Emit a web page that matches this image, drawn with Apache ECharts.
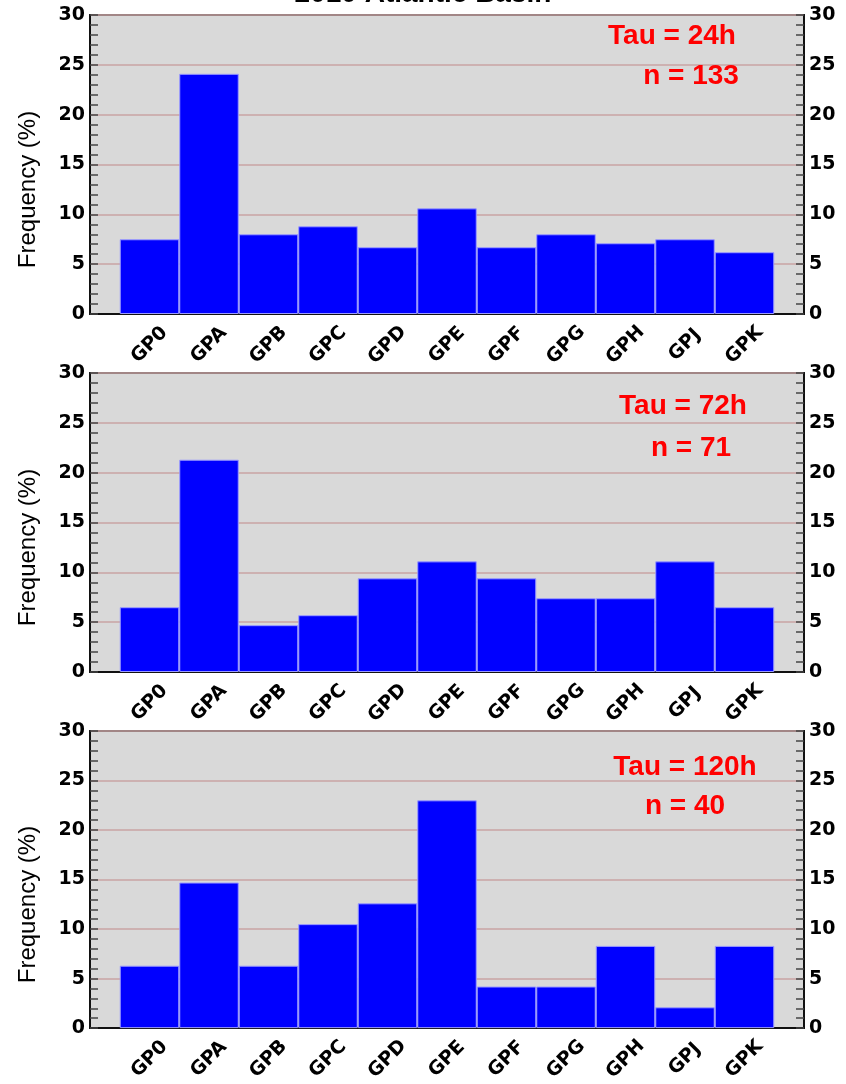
<!DOCTYPE html>
<html style="height: 100%">
<head>
  <meta charset="utf-8">
  <script src="https://cdn.jsdelivr.net/npm/echarts@6/dist/echarts.min.js"></script>
</head>
<body style="height: 100%; margin: 0; background: #fff">
  <div id="container" style="width: 846px; height: 1084px"></div>
  <script type="text/javascript">
    // data
    var titleText = '2010 Atlantic Basin';
    var categories = ['GP0', 'GPA', 'GPB', 'GPC', 'GPD', 'GPE', 'GPF', 'GPG', 'GPH', 'GPJ', 'GPK'];
    var freq24 = [7.5, 24.1, 8.0, 8.8, 6.7, 10.6, 6.7, 8.0, 7.1, 7.5, 6.2];
    var freq72 = [6.5, 21.3, 4.7, 5.7, 9.4, 11.1, 9.4, 7.4, 7.4, 11.1, 6.5];
    var freq120 = [6.3, 14.7, 6.3, 10.5, 12.6, 23.0, 4.2, 4.2, 8.3, 2.1, 8.3];
    var tauLabels = ['Tau = 24h', 'Tau = 72h', 'Tau = 120h'];
    var countLabels = ['n = 133', 'n = 71', 'n = 40'];
    var yName = 'Frequency (%)';

    var panels = [freq24, freq72, freq120];
    var tops = [15, 373, 731];
    var tauPos = [[672, 36], [683, 406], [685, 767]];
    var countPos = [[691, 76], [691, 448], [685, 806]];

    // half a bar of empty room at each end
    var padCats = [''].concat(categories, ['']);

    var grids = [], xAxes = [], yAxes = [], series = [], graphics = [];
    var tickFont = 'DejaVu Sans';

    function yAxisFor(i, pos) {
      return {
        gridIndex: i,
        type: 'value',
        position: pos,
        min: 0, max: 30, interval: 5,
        name: pos == 'left' ? yName : '',
        nameLocation: 'middle',
        nameGap: 50,
        // name sits a bit below the middle in the original
        nameTextStyle: { fontFamily: 'Liberation Sans', fontSize: 24, color: '#000', padding: [0, 50, 0, 0] },
        axisLine: { show: true, lineStyle: { color: '#111', width: 2 } },
        axisTick: { show: true, inside: true, length: 8, lineStyle: { color: '#444', width: 1.5 } },
        minorTick: { show: true, splitNumber: 5, length: 8, lineStyle: { color: '#444', width: 1.5 } },
        axisLabel: { fontFamily: tickFont, fontWeight: 'bold', fontSize: 19, color: '#000', margin: 5 },
        splitLine: { show: pos == 'left', lineStyle: { color: '#c9a3a3', width: 1.5 } }
      };
    }

    for (var i = 0; i < panels.length; i++) {
      grids.push({
        left: 90, top: tops[i], width: 714, height: 299,
        show: true, backgroundColor: '#d9d9d9', borderColor: '#333', borderWidth: 2
      });
      xAxes.push({
        gridIndex: i,
        type: 'category',
        data: padCats,
        boundaryGap: false,
        axisLine: { lineStyle: { color: '#111', width: 2 } },
        axisTick: { show: false },
        axisLabel: {
          interval: 0, rotate: 45, align: 'center', verticalAlign: 'middle', margin: 31,
          fontFamily: tickFont, fontWeight: 'bold', fontSize: 19, color: '#000'
        },
        splitLine: { show: false }
      });
      yAxes.push(yAxisFor(i, 'left'));
      yAxes.push(yAxisFor(i, 'right'));
      series.push({
        type: 'bar',
        xAxisIndex: i,
        yAxisIndex: i * 2,
        data: ['-'].concat(panels[i], ['-']),
        barCategoryGap: '0%',
        itemStyle: { color: '#0000ff', borderColor: '#9a9aff', borderWidth: 1 },
        silent: true
      });
      graphics.push({
        type: 'text', x: tauPos[i][0], y: tauPos[i][1], z: 100,
        style: { text: tauLabels[i], align: 'center', verticalAlign: 'middle',
          fontFamily: 'Liberation Sans', fontWeight: 'bold', fontSize: 28, fill: '#ff0000' }
      });
      graphics.push({
        type: 'text', x: countPos[i][0], y: countPos[i][1], z: 100,
        style: { text: countLabels[i], align: 'center', verticalAlign: 'middle',
          fontFamily: 'Liberation Sans', fontWeight: 'bold', fontSize: 28, fill: '#ff0000' }
      });
    }

    graphics.push({
      type: 'text', x: 423, y: -6, z: 100,
      style: { text: titleText, align: 'center', verticalAlign: 'middle',
        fontFamily: 'Liberation Sans', fontWeight: 'bold', fontSize: 28, fill: '#000' }
    });

    var myChart = echarts.init(document.getElementById('container'));
    myChart.setOption({
      animation: false,
      backgroundColor: '#fff',
      grid: grids,
      xAxis: xAxes,
      yAxis: yAxes,
      series: series,
      graphic: graphics
    });
  </script>
</body>
</html>
